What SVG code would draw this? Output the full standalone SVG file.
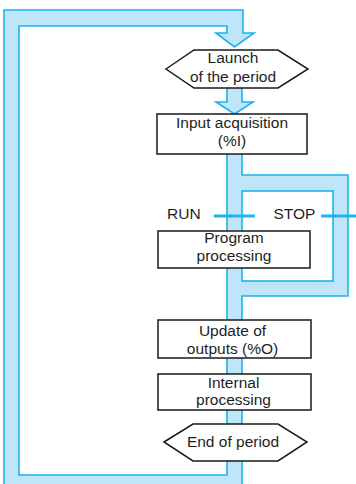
<svg xmlns="http://www.w3.org/2000/svg" width="356" height="484" viewBox="0 0 356 484">
  <style>
    .band { fill: #bee6f8; stroke: none; }
    .edge { fill: none; stroke: #1ab4ee; stroke-width: 1.6; stroke-linejoin: miter; }
    .switch { fill: none; stroke: #1ab4ee; stroke-width: 3.2; }
    .box { fill: #ffffff; stroke: #1a1a1a; stroke-width: 1.5; }
    .t { font-family: "Liberation Sans", Arial, sans-serif; font-size: 15.5px; fill: #1e1e1e; text-anchor: middle; }
    .ts { font-family: "Liberation Sans", Arial, sans-serif; font-size: 15.5px; fill: #1e1e1e; }
  </style>
  <rect width="356" height="484" fill="#ffffff"/>
  <g id="connectors">
    <!-- big return loop with arrow into launch -->
    <path class="band" d="M4,10 H243 V33 H254 L234.5,47 L216,33 H227 V26 H19 V475 H227 V491 H4 Z"/>
    <!-- arrow launch -> input -->
    <path class="band" d="M227,88 V102 H216 L234.5,114 L253,102 H242 V88 Z"/>
    <!-- main shaft -->
    <rect class="band" x="227" y="154" width="15" height="335"/>
    <!-- STOP bypass branch -->
    <rect class="band" x="242" y="175" width="106" height="121"/>
    <rect x="242" y="191" width="91" height="90" fill="#ffffff"/>
    <!-- edges -->
    <path class="edge" d="M227,154 V475 H19 V26 H227 V33 H216 L234.5,47 L254,33 H243 V10 H4 V490"/>
    <path class="edge" d="M227,88 V102 H216 L234.5,114 L253,102 H242 V88"/>
    <path class="edge" d="M242,154 V175 H348 V296 H242 V490"/>
    <rect class="edge" x="242" y="191" width="91" height="90"/>
    <!-- RUN / STOP switch marks -->
    <line class="switch" x1="214" y1="216" x2="255" y2="216"/>
    <line class="switch" x1="321" y1="216" x2="357" y2="216"/>
  </g>
  <g id="label-run"><text class="ts" x="167" y="219">RUN</text></g>
  <g id="label-stop"><text class="ts" x="273.5" y="219">STOP</text></g>
  <g id="launch">
    <polygon class="box" points="166,69 194,50 278,50 308,69 278,88 194,88"/>
    <text class="t" x="233" y="63">Launch</text>
    <text class="t" x="233" y="81.5">of the period</text>
  </g>
  <g id="input">
    <rect class="box" x="157" y="114" width="150" height="40"/>
    <text class="t" x="232" y="127.5">Input acquisition</text>
    <text class="t" x="232" y="146">(%I)</text>
  </g>
  <g id="program">
    <rect class="box" x="158" y="231" width="152" height="37"/>
    <text class="t" x="234" y="243">Program</text>
    <text class="t" x="234" y="261">processing</text>
  </g>
  <g id="update">
    <rect class="box" x="158" y="320" width="153" height="38"/>
    <text class="t" x="232.5" y="336">Update of</text>
    <text class="t" x="232.5" y="353.5">outputs (%O)</text>
  </g>
  <g id="internal">
    <rect class="box" x="158" y="374" width="153" height="36"/>
    <text class="t" x="233.5" y="387.5">Internal</text>
    <text class="t" x="233.5" y="405">processing</text>
  </g>
  <g id="end">
    <polygon class="box" points="164,442 193,424 278,424 307,442 278,461 193,461"/>
    <text class="t" x="233" y="446.5">End of period</text>
  </g>
</svg>
